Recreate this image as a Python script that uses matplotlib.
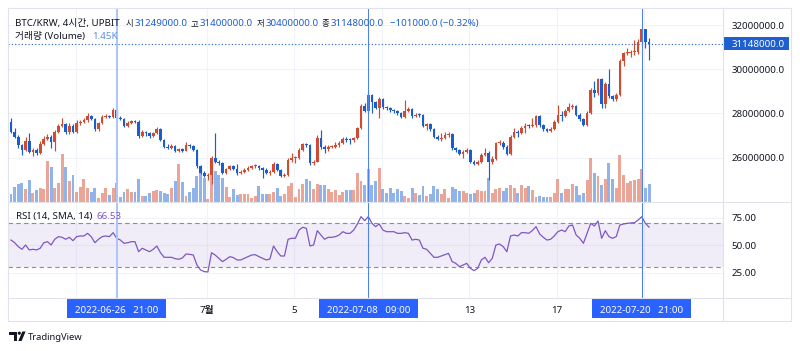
import matplotlib
matplotlib.use('Agg')
import matplotlib.pyplot as plt
import matplotlib.transforms as mtransforms
from matplotlib.patches import Rectangle, Polygon, Circle
from matplotlib.lines import Line2D
import numpy as np
import pandas as pd

plt.rcParams['font.family'] = ['Noto Sans', 'Noto Sans CJK KR', 'DejaVu Sans']

# ---------------- data ----------------
symbol_text = 'BTC/KRW, 4시간, UPBIT'
start_time = '2022-06-22 01:00'
bar_freq = '4h'

# prices in millions of KRW
opens_m = [
    27.63, 27.17, 26.95, 26.57, 26.35, 26.75, 26.24, 26.35, 26.20, 26.62,
    26.85, 26.95, 26.72, 27.17, 27.44, 27.50, 27.14, 27.45, 27.17, 27.55,
    27.60, 27.68, 27.88, 27.73, 27.28, 27.55, 27.85, 27.90, 27.85, 28.15,
    27.80, 27.75, 27.45, 27.57, 27.65, 27.62, 26.99, 27.17, 27.10, 26.99,
    27.10, 27.30, 26.80, 26.50, 26.45, 26.52, 26.30, 26.38, 26.32, 26.57,
    26.52, 26.35, 25.60, 25.32, 25.17, 25.20, 25.97, 25.82, 25.74, 25.30,
    25.47, 25.60, 25.50, 25.30, 25.35, 25.45, 25.55, 25.60, 25.62, 25.52,
    25.45, 25.30, 25.35, 25.70, 25.44, 25.18, 25.22, 25.89, 25.97, 25.99,
    26.34, 26.60, 26.57, 25.74, 25.82, 26.87, 26.50, 26.38, 26.48, 26.50,
    26.55, 26.65, 26.85, 26.80, 26.78, 26.88, 27.32, 28.35, 28.11, 28.83,
    28.50, 28.26, 28.65, 28.28, 28.25, 28.15, 28.10, 28.00, 27.85, 28.10,
    28.20, 27.88, 27.95, 27.93, 27.43, 27.50, 27.30, 26.95, 26.85, 26.90,
    27.00, 27.08, 26.42, 26.35, 26.16, 26.27, 26.34, 25.82, 25.72, 25.80,
    26.12, 26.22, 25.80, 25.95, 26.64, 26.67, 26.50, 26.16, 26.95, 27.17,
    27.12, 27.35, 27.45, 27.42, 27.47, 27.88, 27.47, 27.30, 27.22, 27.30,
    27.63, 27.93, 27.88, 28.12, 28.27, 28.33, 27.93, 27.73, 27.48, 28.03,
    29.06, 28.91, 29.54, 28.43, 29.33, 28.79, 28.64, 28.83, 30.39, 30.72,
    30.75, 30.77, 30.80, 31.25, 31.80, 31.249]
highs_m = [
    27.81, 27.32, 27.02, 26.62, 26.95, 27.10, 26.45, 26.42, 26.75, 26.98,
    27.05, 27.00, 27.25, 27.52, 27.78, 27.58, 27.55, 27.52, 27.70, 27.68,
    27.80, 28.00, 27.95, 27.78, 27.62, 27.92, 27.98, 27.95, 28.25, 28.20,
    27.88, 27.80, 27.65, 27.72, 27.72, 27.68, 27.25, 27.22, 27.15, 27.18,
    27.38, 27.35, 26.85, 26.62, 26.60, 26.58, 26.45, 26.45, 26.70, 26.62,
    26.58, 26.40, 25.65, 25.38, 25.28, 26.05, 27.10, 25.90, 25.80, 25.55,
    25.68, 25.65, 25.72, 25.42, 25.55, 25.62, 25.68, 25.70, 25.66, 25.58,
    25.52, 25.45, 25.80, 25.75, 25.50, 25.30, 26.00, 26.22, 26.08, 26.42,
    26.68, 26.66, 26.62, 25.90, 27.00, 27.25, 26.58, 26.55, 26.58, 26.70,
    26.75, 26.95, 26.92, 26.88, 26.95, 27.40, 28.42, 28.45, 28.98, 28.90,
    28.58, 28.75, 28.70, 28.35, 28.30, 28.22, 28.15, 28.05, 28.60, 28.30,
    28.25, 28.02, 28.00, 27.98, 27.58, 27.55, 27.35, 27.00, 27.10, 27.15,
    27.15, 27.12, 26.50, 26.40, 26.35, 26.45, 26.40, 25.88, 25.88, 26.20,
    26.42, 26.30, 26.05, 26.72, 26.80, 26.75, 26.55, 27.00, 27.35, 27.25,
    27.42, 27.55, 27.52, 27.78, 27.95, 27.92, 27.52, 27.35, 27.38, 27.70,
    28.38, 28.12, 28.20, 28.45, 28.42, 28.40, 28.00, 27.80, 28.10, 29.15,
    29.45, 29.62, 29.62, 29.40, 29.99, 28.85, 28.92, 30.45, 30.80, 30.95,
    30.88, 31.30, 31.35, 31.85, 31.82, 31.40]
lows_m = [
    27.10, 26.90, 26.42, 26.12, 26.30, 26.20, 26.05, 26.10, 26.15, 26.55,
    26.78, 26.45, 26.30, 27.10, 27.38, 27.05, 27.08, 27.10, 27.12, 27.48,
    27.55, 27.62, 27.68, 27.22, 27.22, 27.50, 27.80, 27.78, 27.80, 27.75,
    27.68, 27.40, 27.38, 27.50, 27.55, 26.90, 26.92, 26.98, 26.90, 26.92,
    27.05, 26.75, 26.45, 26.40, 26.38, 26.25, 26.25, 26.25, 26.28, 26.45,
    26.30, 25.55, 25.25, 25.10, 25.00, 24.80, 25.75, 25.65, 25.25, 25.25,
    25.42, 25.42, 25.22, 25.25, 25.30, 25.40, 25.50, 25.52, 25.45, 25.06,
    25.25, 25.22, 25.30, 25.38, 25.12, 25.12, 25.18, 25.82, 25.75, 25.92,
    26.30, 26.50, 25.68, 25.65, 25.78, 26.40, 26.20, 26.30, 26.42, 26.45,
    26.50, 26.60, 26.72, 26.60, 26.72, 26.82, 27.28, 28.05, 28.05, 28.00,
    28.18, 27.78, 28.20, 28.15, 28.05, 28.02, 27.92, 27.78, 27.80, 28.05,
    27.80, 27.82, 27.85, 27.38, 27.25, 27.22, 26.88, 26.78, 26.75, 26.85,
    26.95, 26.35, 26.25, 26.10, 26.00, 26.20, 25.75, 25.65, 25.65, 25.75,
    26.05, 25.00, 25.70, 25.90, 26.55, 26.40, 26.10, 26.12, 26.90, 26.95,
    27.05, 27.10, 27.35, 27.38, 27.40, 27.40, 27.22, 27.15, 27.18, 27.25,
    27.58, 27.65, 27.82, 28.05, 28.22, 27.88, 27.66, 27.42, 27.45, 27.98,
    28.75, 28.85, 28.25, 28.25, 28.70, 28.58, 28.58, 28.78, 30.15, 30.65,
    30.55, 30.65, 30.70, 31.05, 30.95, 30.40]
closes_m = [
    27.17, 26.95, 26.57, 26.35, 26.75, 26.24, 26.35, 26.20, 26.62, 26.85,
    26.95, 26.72, 27.17, 27.44, 27.50, 27.14, 27.45, 27.17, 27.55, 27.60,
    27.68, 27.88, 27.73, 27.28, 27.55, 27.85, 27.90, 27.85, 28.15, 27.80,
    27.75, 27.45, 27.57, 27.65, 27.62, 26.99, 27.17, 27.10, 26.99, 27.10,
    27.30, 26.80, 26.50, 26.45, 26.52, 26.30, 26.38, 26.32, 26.57, 26.52,
    26.35, 25.60, 25.32, 25.17, 25.20, 25.97, 25.82, 25.74, 25.30, 25.47,
    25.60, 25.50, 25.30, 25.35, 25.45, 25.55, 25.60, 25.62, 25.52, 25.45,
    25.30, 25.35, 25.70, 25.44, 25.18, 25.22, 25.89, 25.97, 25.99, 26.34,
    26.60, 26.57, 25.74, 25.82, 26.87, 26.50, 26.38, 26.48, 26.50, 26.55,
    26.65, 26.85, 26.80, 26.78, 26.88, 27.32, 28.35, 28.11, 28.83, 28.50,
    28.26, 28.65, 28.28, 28.25, 28.15, 28.10, 28.00, 27.85, 28.10, 28.20,
    27.88, 27.95, 27.93, 27.43, 27.50, 27.30, 26.95, 26.85, 26.90, 27.00,
    27.08, 26.42, 26.35, 26.16, 26.27, 26.34, 25.82, 25.72, 25.80, 26.12,
    26.22, 25.80, 25.95, 26.64, 26.67, 26.50, 26.16, 26.95, 27.17, 27.12,
    27.35, 27.45, 27.42, 27.47, 27.88, 27.47, 27.30, 27.22, 27.30, 27.63,
    27.93, 27.88, 28.12, 28.27, 28.33, 27.93, 27.73, 27.48, 28.03, 29.06,
    28.91, 29.54, 28.43, 29.33, 28.79, 28.64, 28.83, 30.39, 30.72, 30.75,
    30.77, 30.80, 31.25, 31.80, 31.249, 31.148]
# volume in thousands
volumes_k = [
    0.63, 1.23, 1.50, 1.56, 1.04, 1.78, 0.77, 0.96, 1.17, 1.04,
    3.36, 2.87, 1.17, 1.58, 3.96, 2.87, 1.72, 2.19, 0.85, 1.23,
    1.91, 1.17, 0.85, 1.17, 0.36, 0.77, 1.15, 0.55, 1.17, 1.53,
    0.41, 0.82, 1.04, 0.82, 0.82, 1.91, 0.49, 0.49, 0.77, 0.90,
    0.98, 0.90, 0.77, 0.68, 1.17, 1.70, 3.10, 1.67, 0.49, 0.82,
    1.17, 2.13, 2.54, 2.00, 0.27, 3.50, 2.54, 2.21, 2.00, 1.26,
    0.41, 1.09, 0.55, 0.63, 0.63, 0.63, 0.36, 0.49, 1.31, 0.63,
    0.63, 0.63, 0.80, 1.17, 0.50, 0.63, 1.30, 1.58, 0.40, 1.04,
    1.45, 1.86, 1.70, 1.04, 1.45, 1.37, 1.37, 1.10, 0.80, 0.95,
    0.55, 0.80, 0.95, 0.95, 0.95, 2.35, 1.72, 1.37, 2.68, 1.40,
    1.70, 2.80, 1.04, 0.77, 1.17, 0.71, 1.04, 0.90, 0.49, 0.36,
    1.12, 0.77, 0.57, 1.31, 0.50, 0.63, 1.31, 1.04, 0.63, 1.09,
    0.35, 1.23, 1.04, 0.90, 0.90, 0.77, 0.68, 0.77, 0.95, 0.90,
    0.90, 1.94, 0.77, 1.04, 1.17, 0.90, 1.12, 1.39, 1.17, 0.77,
    1.37, 1.17, 1.31, 0.95, 0.41, 0.50, 0.41, 0.41, 0.41, 0.77,
    1.86, 0.77, 1.04, 1.04, 1.45, 1.31, 0.55, 0.71, 1.83, 3.58,
    2.35, 2.13, 1.37, 1.86, 3.22, 1.86, 1.17, 3.83, 2.19, 1.58,
    1.72, 1.83, 1.89, 2.73, 1.17, 1.45]
rsi_values = [
    54.8, 52.4, 48.8, 46.4, 50.3, 45.8, 46.4, 45.8, 47.3, 52.4,
    53.3, 50.3, 55.5, 57.9, 57.3, 55.5, 57.3, 54.2, 57.9, 58.5,
    58.5, 60.9, 57.9, 52.4, 55.5, 57.9, 58.5, 57.9, 61.5, 56.4,
    54.8, 51.8, 52.4, 53.3, 53.3, 44.2, 47.3, 45.8, 44.2, 46.4,
    49.4, 43.3, 39.1, 39.1, 39.1, 37.9, 37.3, 38.5, 42.1, 41.8,
    41.2, 32.1, 27.6, 26.1, 25.8, 43.3, 41.2, 38.2, 35.2, 37.3,
    39.7, 38.8, 36.7, 36.7, 38.2, 39.7, 41.2, 41.5, 39.7, 38.2,
    36.7, 37.5, 49.4, 44.2, 40.3, 40.3, 55.5, 56.4, 56.4, 63.9,
    66.4, 65.5, 49.4, 50.3, 63.3, 59.4, 55.5, 57.3, 57.3, 57.9,
    59.4, 62.4, 60.9, 60.9, 63.9, 69.4, 76.1, 72.4, 76.1, 70.0,
    67.0, 69.4, 63.9, 62.4, 62.4, 62.4, 60.9, 60.9, 61.5, 60.9,
    54.8, 55.5, 54.8, 47.3, 46.4, 42.7, 39.1, 39.1, 40.3, 41.5,
    42.7, 35.2, 33.6, 30.6, 32.1, 33.6, 29.1, 27.0, 29.1, 36.7,
    39.1, 34.2, 38.2, 50.3, 51.2, 48.8, 44.2, 58.5, 59.4, 58.5,
    61.5, 61.5, 60.9, 63.5, 67.0, 60.3, 57.3, 54.8, 55.5, 58.5,
    62.4, 63.9, 62.4, 67.6, 68.5, 59.4, 56.4, 51.8, 60.9, 70.0,
    67.6, 72.1, 56.4, 63.3, 57.9, 56.4, 57.9, 68.5, 69.4, 70.0,
    70.3, 70.6, 73.0, 76.0, 70.0, 66.53]

price_ticks = [26000000, 28000000, 30000000, 32000000]
rsi_ticks = [25, 50, 75]
rsi_band = [30, 70]
time_tick_dates = ['2022-07-01 00:00', '2022-07-05 00:00', '2022-07-13 00:00', '2022-07-17 00:00']
time_tick_labels = ['7월', '5', '13', '17']
grid_dates = ['2022-06-25 00:00', '2022-07-01 00:00', '2022-07-05 00:00', '2022-07-09 00:00',
              '2022-07-13 00:00', '2022-07-17 00:00', '2022-07-21 00:00']
cursor_dates = ['2022-06-26 21:00', '2022-07-08 09:00', '2022-07-20 21:00']
cursor_labels = ['2022-06-26   21:00', '2022-07-08   09:00', '2022-07-20   21:00']
header_ohlc_keys = ['시', '고', '저', '종']
header_ohlc_vals = ['31249000.0', '31400000.0', '30400000.0', '31148000.0']
change_text = '\u2212101000.0 (\u22120.32%)'
volume_label = '거래량 (Volume)'
volume_value_text = '1.45K'
rsi_label = 'RSI (14, SMA, 14)'
rsi_value_text = '66.53'

# ---------------- style ----------------
UP = '#d04b30'
DOWN = '#1b5dcf'
VOL_UP = '#eba597'
VOL_DOWN = '#90b4ea'
GRID = '#f0f3fa'
BORDER = '#e0e3eb'
TEXT = '#131722'
RSI_C = '#7e57c2'
BOX = '#2962ff'
FS = 7.0

n = len(closes_m)
times = pd.date_range(start_time, periods=n, freq=bar_freq)
step = pd.Timedelta(bar_freq)
x = np.arange(n)


def tpos(s):
    return (pd.Timestamp(s) - times[0]) / step


W, H = 800, 351
fig = plt.figure(figsize=(W / 100, H / 100), dpi=100)
fig.patch.set_facecolor('white')


def rect(l, t, r, b):
    return [l / W, 1 - b / H, (r - l) / W, (b - t) / H]


PL, PR, MT, MB, RB, TB, AR = 8, 723, 8, 202, 298, 321, 791
px_per_bar = 3.646
first_bar_px = 11
xlim = ((PL - first_bar_px) / px_per_bar, (PR - first_bar_px) / px_per_bar)

ax_vol = fig.add_axes(rect(PL, MT, PR, MB), zorder=1)
ax = fig.add_axes(rect(PL, MT, PR, MB), zorder=2)
ax.patch.set_visible(False)
ax_rsi = fig.add_axes(rect(PL, MB, PR, RB), zorder=2)
ov = fig.add_axes([0, 0, 1, 1], zorder=10)
ov.set_xlim(0, W)
ov.set_ylim(H, 0)
ov.axis('off')
ov.patch.set_visible(False)

for a in (ax_vol, ax, ax_rsi):
    a.set_xlim(*xlim)
    for s in a.spines.values():
        s.set_visible(False)
    a.set_xticks([])

ax.set_ylim(23.99, 32.77)
ax_vol.set_ylim(0, 15.9)
ax_vol.set_yticks([])
ax_rsi.set_ylim(2.1, 89.4)

# grids
for gd in grid_dates:
    ax_vol.axvline(tpos(gd), color=GRID, lw=0.8, zorder=0)
    ax_rsi.axvline(tpos(gd), color=GRID, lw=0.8, zorder=0)
gblend = mtransforms.blended_transform_factory(ax_vol.transAxes, ax.transData)
for p in price_ticks:
    ax_vol.add_line(Line2D([0, 1], [p / 1e6, p / 1e6], transform=gblend, color=GRID, lw=0.8, zorder=0))
for r in rsi_ticks:
    ax_rsi.axhline(r, color=GRID, lw=0.8, zorder=0)

o = np.array(opens_m)
c = np.array(closes_m)
hi = np.array(highs_m)
lo = np.array(lows_m)
up = c >= o
ccol = [UP if u else DOWN for u in up]
vcol = [VOL_UP if u else VOL_DOWN for u in up]

# volume
ax_vol.bar(x, volumes_k, width=0.8, color=vcol, linewidth=0, zorder=2)

# candles
ax.vlines(x, lo, hi, colors=ccol, lw=0.85, zorder=3)
bottoms = np.minimum(o, c)
heights = np.maximum(np.abs(c - o), 0.045)
ax.bar(x, heights, bottom=bottoms, width=0.74, color=ccol, linewidth=0, zorder=4)

# last price line
last = closes_m[-1]
ax.axhline(last, color=DOWN, lw=0.8, ls=(0, (1, 2)), zorder=2)

# price axis
ax.yaxis.tick_right()
ax.set_yticks([p / 1e6 for p in price_ticks])
ax.set_yticklabels([f'{p:.1f}' for p in price_ticks])
ax.tick_params(axis='y', length=0, pad=6.0, labelsize=FS, labelcolor=TEXT)

pblend = mtransforms.blended_transform_factory(ax.transAxes, ax.transData)
ppx = (32.77 - 23.99) / (MB - MT)
ax.add_patch(Rectangle((1 + 1.0 / (PR - PL), last - 6.5 * ppx), 65.0 / (PR - PL), 13 * ppx,
                       transform=pblend, facecolor='#1f5fcf', edgecolor='none', clip_on=False, zorder=20))
ax.text(1 + 8.5 / (PR - PL), last, f'{last * 1e6:.1f}', transform=pblend, color='white', fontsize=FS,
        ha='left', va='center_baseline', clip_on=False, zorder=21)

# RSI pane
ax_rsi.axhspan(rsi_band[0], rsi_band[1], color=RSI_C, alpha=0.1, lw=0, zorder=1)
for b in rsi_band:
    ax_rsi.axhline(b, color='#8a8d96', lw=0.8, ls=(0, (4, 3)), zorder=2)
ax_rsi.plot(x, rsi_values, color=RSI_C, lw=0.9, zorder=3)
ax_rsi.yaxis.tick_right()
ax_rsi.set_yticks(rsi_ticks)
ax_rsi.set_yticklabels([f'{v:.2f}' for v in rsi_ticks])
ax_rsi.tick_params(axis='y', length=0, pad=6.0, labelsize=FS, labelcolor=TEXT)

# cursor lines
for k, cd in enumerate(cursor_dates):
    if k == 0:
        kw = dict(color='#aec5f8', lw=1.5)
    else:
        kw = dict(color='#4f80ef', lw=0.75)
    ax.axvline(tpos(cd), zorder=6, **kw)
    ax_rsi.axvline(tpos(cd), zorder=6, **kw)

# time axis labels and cursor boxes
tblend = mtransforms.blended_transform_factory(ax_rsi.transData, ax_rsi.transAxes)
rsi_h = RB - MB
for d, lab in zip(time_tick_dates, time_tick_labels):
    ax_rsi.text(tpos(d), -(312.8 - RB) / rsi_h, lab, transform=tblend, ha='center', va='baseline',
                fontsize=FS, color=TEXT, fontweight='bold' if lab.endswith('월') else 'normal',
                clip_on=False)
half_w = 49.5 / px_per_bar
for cd, lab in zip(cursor_dates, cursor_labels):
    p = tpos(cd)
    ax_rsi.add_patch(Rectangle((p - half_w, -20.0 / rsi_h), 2 * half_w, 20.0 / rsi_h, transform=tblend,
                               facecolor=BOX, edgecolor='none', clip_on=False, zorder=20))
    ax_rsi.text(p, -(313.0 - RB) / rsi_h, lab, transform=tblend, ha='center', va='baseline',
                fontsize=FS, color='white', clip_on=False, zorder=21)

# borders
for xs, ys in [([PL, AR], [MT, MT]), ([PL, AR], [TB, TB]), ([PL, PL], [MT, TB]), ([AR, AR], [MT, TB]),
               ([PR, PR], [MT, TB]), ([PL, AR], [MB, MB]), ([PL, AR], [RB, RB])]:
    ov.add_line(Line2D(xs, ys, color=BORDER, lw=0.8))

# header
ov.text(15, 26, symbol_text, color=TEXT, fontsize=FS, va='baseline')
key_x = [125.5, 191.0, 256.5, 322.0]
for kx, kk, vv in zip(key_x, header_ohlc_keys, header_ohlc_vals):
    ov.text(kx, 26, kk, color=TEXT, fontsize=6.0, va='baseline')
    ov.text(kx + 8.8, 26, vv, color='#1f5fcf', fontsize=FS, va='baseline')
ov.text(390, 26, change_text, color='#1f5fcf', fontsize=FS, va='baseline')
ov.text(15, 39, volume_label, color=TEXT, fontsize=FS, va='baseline')
ov.text(92, 39, volume_value_text, color='#5a8fe3', fontsize=FS, va='baseline')
ov.text(15.5, 219, rsi_label, color=TEXT, fontsize=FS, va='baseline')
ov.text(96.7, 219, rsi_value_text, color=RSI_C, fontsize=FS, va='baseline')

# TradingView logo
ov.add_patch(Polygon([(9, 331.5), (16.5, 331.5), (16.5, 341), (13.5, 341), (13.5, 334.5), (9, 334.5)],
                     closed=True, facecolor=TEXT, edgecolor='none'))
ov.add_patch(Circle((19.3, 333.2), 1.6, facecolor=TEXT, edgecolor='none'))
ov.add_patch(Polygon([(18.3, 341), (22.3, 331.5), (25.6, 331.5), (21.6, 341)], closed=True,
                     facecolor=TEXT, edgecolor='none'))
ov.text(28, 339.6, 'TradingView', color=TEXT, fontsize=6.8, fontweight='bold', va='baseline')

fig.savefig('out.png', dpi=100, facecolor='white')
